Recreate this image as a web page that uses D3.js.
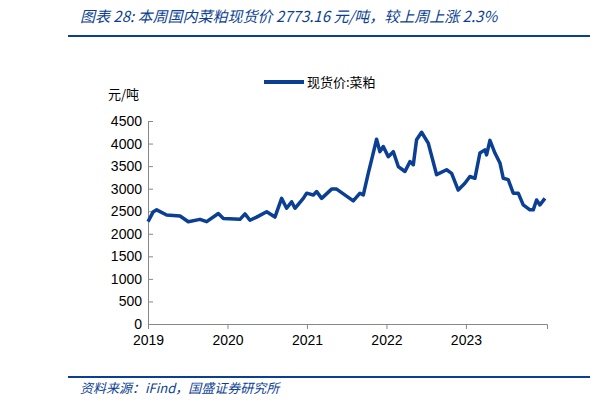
<!DOCTYPE html>
<html><head><meta charset="utf-8">
<script src="https://cdn.jsdelivr.net/npm/d3@7"></script>
<style>body{margin:0;background:#fff}</style></head>
<body><svg id="c" width="600" height="407"></svg>
<script>
const years=[2019.000,2019.067,2019.109,2019.235,2019.403,2019.507,2019.654,2019.738,2019.885,2019.948,2020.157,2020.220,2020.283,2020.367,2020.493,2020.597,2020.681,2020.744,2020.807,2020.849,2020.954,2020.996,2021.080,2021.122,2021.185,2021.310,2021.373,2021.583,2021.667,2021.709,2021.771,2021.813,2021.876,2021.918,2021.960,2022.023,2022.086,2022.149,2022.233,2022.296,2022.338,2022.379,2022.442,2022.526,2022.631,2022.757,2022.820,2022.903,2022.987,2023.050,2023.113,2023.176,2023.239,2023.260,2023.302,2023.365,2023.428,2023.470,2023.532,2023.595,2023.658,2023.721,2023.805,2023.847,2023.889,2023.931,2023.994];
const prices=[2268,2490,2530,2415,2395,2268,2320,2268,2450,2340,2320,2440,2300,2370,2490,2370,2785,2565,2710,2565,2785,2900,2860,2935,2785,2990,2990,2730,2900,2860,3340,3640,4095,3820,3935,3710,3820,3490,3380,3600,3530,4085,4250,4010,3310,3420,3340,2970,3120,3270,3230,3790,3860,3750,4070,3790,3570,3230,3200,2900,2900,2640,2530,2530,2750,2640,2785];
const yTicks=[0,500,1000,1500,2000,2500,3000,3500,4000,4500];
const xTicks=[2019,2020,2021,2022,2023];
const svg=d3.select("#c");
const blue="#0b3f94";
svg.append("text").attr("x",80).attr("y",22).attr("fill",blue).attr("font-style","italic").attr("font-size",15).attr("font-family","Noto Sans CJK SC").text("图表 28:  本周国内菜粕现货价 2773.16 元/吨，较上周上涨 2.3%");
svg.append("line").attr("x1",68).attr("x2",590).attr("y1",36).attr("y2",36).attr("stroke",blue).attr("stroke-width",2);
svg.append("line").attr("x1",68).attr("x2",590).attr("y1",377).attr("y2",377).attr("stroke",blue).attr("stroke-width",2);
svg.append("text").attr("x",80).attr("y",393).attr("fill",blue).attr("font-style","italic").attr("font-size",13).attr("font-family","Noto Sans CJK SC").text("资料来源：iFind，国盛证券研究所");
const x=d3.scaleLinear().domain([2019,2024.02]).range([148,547]);
const y=d3.scaleLinear().domain([0,4500]).range([324,121]);
const ya=svg.append("g").attr("transform","translate(148,0)").call(d3.axisRight(y).tickValues(yTicks).tickSize(5).tickFormat(d3.format("d")));
ya.select(".domain").attr("stroke","#888");
ya.selectAll(".tick line").attr("stroke","#888");
ya.selectAll("text").attr("x",-6).attr("text-anchor","end").attr("font-size",14).attr("font-family","Liberation Sans").attr("fill","#000");
const xa=svg.append("g").attr("transform","translate(0,324)").call(d3.axisBottom(x).tickValues(xTicks).tickSize(5).tickFormat(d3.format("d")));
xa.select(".domain").attr("stroke","#888");
xa.selectAll(".tick line").attr("stroke","#888");
xa.selectAll("text").attr("dy","0.95em").attr("font-size",14).attr("font-family","Liberation Sans").attr("fill","#000");
svg.append("text").attr("x",108).attr("y",99).attr("font-size",13).attr("font-family","Noto Sans CJK SC").text("元/吨");
svg.append("line").attr("x1",264).attr("x2",304).attr("y1",82).attr("y2",82).attr("stroke",blue).attr("stroke-width",4);
svg.append("text").attr("x",307).attr("y",87).attr("font-size",13).attr("font-family","Noto Sans CJK SC").text("现货价:菜粕");
svg.append("path").datum(years.map((t,i)=>[t,prices[i]])).attr("fill","none").attr("stroke",blue).attr("stroke-width",3.5).attr("stroke-linejoin","round")
 .attr("d",d3.line().x(d=>x(d[0])).y(d=>y(d[1])));
</script></body></html>
